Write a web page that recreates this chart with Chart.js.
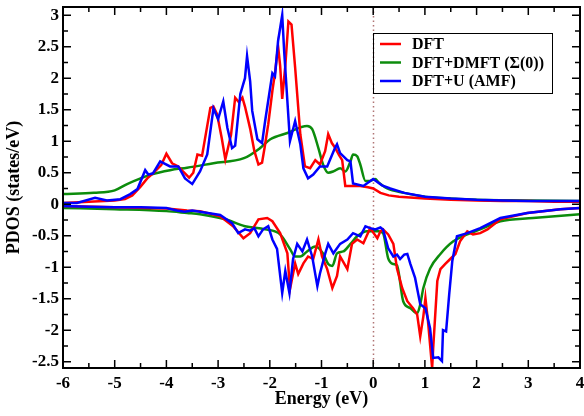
<!DOCTYPE html>
<html>
<head>
<meta charset="utf-8">
<title>PDOS</title>
<script src="https://cdn.jsdelivr.net/npm/chart.js@4.4.1/dist/chart.umd.min.js"></script>
<style>
  html, body { margin: 0; padding: 0; background: #fff; }
  #wrap { width: 584px; height: 416px; }
</style>
</head>
<body>
<div id="wrap"><canvas id="pdosChart" width="584" height="416"></canvas></div>
<script>
// tick labels
const xTicks = [-6, -5, -4, -3, -2, -1, 0, 1, 2, 3, 4];
const yTicks = [-2.5, -2, -1.5, -1, -0.5, 0, 0.5, 1, 1.5, 2, 2.5, 3];

const seriesNames = ['DFT', 'DFT+DMFT (\u03A3(0))', 'DFT+U (AMF)'];

// DFT, spin up / spin down
const dftUpE = [-6, -5.5, -5, -4.8, -4.66, -4.5, -4.37, -4.26, -4.1, -4.0, -3.89, -3.77, -3.68, -3.56, -3.48, -3.40, -3.31, -3.15, -3.09, -3.02, -2.93, -2.86, -2.75, -2.67, -2.60, -2.53, -2.48, -2.38, -2.30, -2.22, -2.15, -2.10, -2.03, -1.95, -1.90, -1.84, -1.80, -1.76, -1.70, -1.64, -1.58, -1.51, -1.41, -1.32, -1.22, -1.12, -1.03, -0.93, -0.87, -0.80, -0.74, -0.66, -0.60, -0.54, -0.40, -0.25, -0.10, 0, 0.14, 0.3, 0.5, 1, 1.5, 2, 2.5, 3, 3.5, 4];
const dftUpV = [0.02, 0.04, 0.06, 0.08, 0.14, 0.28, 0.41, 0.49, 0.62, 0.80, 0.65, 0.60, 0.52, 0.42, 0.50, 0.79, 0.77, 1.53, 1.55, 1.43, 1.05, 0.71, 1.10, 1.69, 1.62, 1.69, 1.55, 1.20, 0.85, 0.63, 0.66, 0.90, 1.27, 1.80, 2.08, 2.51, 2.20, 1.67, 2.20, 2.90, 2.85, 2.17, 1.11, 0.60, 0.57, 0.70, 0.63, 0.84, 1.11, 0.97, 0.90, 0.78, 0.70, 0.29, 0.29, 0.29, 0.27, 0.25, 0.18, 0.14, 0.12, 0.09, 0.07, 0.06, 0.05, 0.05, 0.04, 0.04];
const dftDnE = [-6, -5, -4, -3.6, -3.35, -2.96, -2.71, -2.51, -2.38, -2.22, -2.05, -1.95, -1.80, -1.66, -1.61, -1.51, -1.45, -1.35, -1.26, -1.16, -1.06, -0.99, -0.89, -0.79, -0.70, -0.64, -0.50, -0.41, -0.31, -0.19, -0.06, 0.08, 0.14, 0.19, 0.29, 0.39, 0.46, 0.56, 0.66, 0.77, 0.85, 0.91, 0.97, 1.01, 1.06, 1.14, 1.16, 1.24, 1.30, 1.39, 1.49, 1.59, 1.68, 1.82, 1.93, 2.07, 2.21, 2.46, 2.98, 3.62, 4];
const dftDnV = [-0.03, -0.05, -0.07, -0.10, -0.11, -0.19, -0.35, -0.54, -0.46, -0.24, -0.22, -0.27, -0.46, -0.78, -1.35, -0.94, -1.11, -0.94, -0.83, -0.87, -0.56, -0.83, -1.03, -1.33, -1.14, -0.83, -1.03, -0.63, -0.56, -0.62, -0.38, -0.54, -0.43, -0.40, -0.48, -0.63, -1.02, -1.33, -1.54, -1.65, -1.75, -2.10, -1.78, -1.49, -1.86, -2.60, -2.29, -1.22, -1.03, -0.95, -0.87, -0.79, -0.59, -0.43, -0.48, -0.46, -0.40, -0.24, -0.14, -0.08, -0.06];

// DFT+DMFT (Sigma(0))
const dmftUpE = [-6, -5.4, -5.0, -4.76, -4.5, -4.3, -3.93, -3.6, -3.09, -2.5, -2.19, -1.99, -1.66, -1.28, -1.18, -1.06, -0.97, -0.87, -0.77, -0.64, -0.54, -0.44, -0.39, -0.31, -0.25, -0.15, -0.06, 0.04, 0.10, 0.27, 0.6, 1, 1.5, 2, 3, 4];
const dmftUpV = [0.16, 0.18, 0.22, 0.32, 0.41, 0.47, 0.54, 0.58, 0.65, 0.73, 0.89, 1.03, 1.13, 1.24, 1.19, 0.89, 0.63, 0.50, 0.52, 0.57, 0.52, 0.68, 0.79, 0.76, 0.63, 0.37, 0.37, 0.40, 0.35, 0.25, 0.18, 0.12, 0.09, 0.07, 0.06, 0.05];
const dmftDnE = [-6, -5, -4, -3.6, -3.35, -2.86, -2.48, -2.09, -1.80, -1.61, -1.51, -1.41, -1.28, -1.12, -0.97, -0.87, -0.79, -0.70, -0.58, -0.44, -0.31, -0.12, 0.04, 0.10, 0.19, 0.29, 0.39, 0.46, 0.58, 0.72, 0.85, 0.91, 0.97, 1.10, 1.30, 1.55, 1.82, 2.07, 2.46, 3.09, 4];
const dmftDnV = [-0.06, -0.08, -0.11, -0.14, -0.16, -0.24, -0.35, -0.40, -0.48, -0.71, -0.83, -0.83, -0.75, -0.67, -0.78, -0.95, -0.98, -0.78, -0.75, -0.63, -0.51, -0.43, -0.43, -0.43, -0.46, -0.86, -0.95, -0.97, -1.54, -1.65, -1.73, -1.59, -1.33, -1.02, -0.79, -0.59, -0.48, -0.40, -0.27, -0.22, -0.16];

// DFT+U (AMF)
const ldauUpE = [-6, -5.73, -5.38, -5.15, -4.89, -4.70, -4.56, -4.41, -4.35, -4.26, -4.12, -3.93, -3.77, -3.64, -3.58, -3.50, -3.35, -3.21, -3.09, -3.00, -2.90, -2.82, -2.73, -2.67, -2.57, -2.48, -2.44, -2.38, -2.34, -2.24, -2.15, -2.09, -1.95, -1.90, -1.84, -1.76, -1.72, -1.61, -1.51, -1.41, -1.35, -1.26, -1.16, -1.03, -0.89, -0.74, -0.70, -0.64, -0.50, -0.44, -0.39, -0.19, 0, 0.17, 0.33, 0.6, 1, 1.5, 2, 2.5, 3, 3.5, 4];
const ldauUpV = [0.02, 0.02, 0.10, 0.06, 0.08, 0.16, 0.24, 0.54, 0.47, 0.49, 0.68, 0.60, 0.60, 0.41, 0.37, 0.32, 0.52, 0.79, 1.52, 1.35, 1.63, 1.21, 0.89, 0.93, 1.75, 2.00, 2.35, 1.95, 1.48, 1.03, 0.97, 1.32, 2.08, 2.03, 2.59, 3.00, 2.40, 1.00, 1.32, 0.95, 0.57, 0.41, 0.47, 0.60, 0.60, 0.89, 0.95, 0.81, 0.70, 0.68, 0.33, 0.29, 0.40, 0.30, 0.25, 0.18, 0.12, 0.09, 0.07, 0.06, 0.05, 0.05, 0.05];
const ldauDnE = [-6, -5.5, -5, -4.5, -4.0, -3.8, -3.65, -3.5, -3.35, -2.96, -2.73, -2.61, -2.48, -2.38, -2.30, -2.22, -2.13, -2.03, -1.95, -1.86, -1.76, -1.70, -1.62, -1.55, -1.47, -1.37, -1.28, -1.18, -1.08, -1.03, -0.93, -0.87, -0.77, -0.64, -0.50, -0.39, -0.25, -0.15, -0.06, 0.04, 0.14, 0.19, 0.29, 0.39, 0.46, 0.52, 0.60, 0.66, 0.72, 0.81, 0.91, 1.01, 1.10, 1.16, 1.26, 1.33, 1.35, 1.41, 1.47, 1.53, 1.62, 1.82, 2.07, 2.46, 2.98, 3.62, 4];
const ldauDnV = [-0.03, -0.04, -0.05, -0.05, -0.06, -0.10, -0.12, -0.10, -0.12, -0.17, -0.30, -0.46, -0.40, -0.42, -0.38, -0.51, -0.40, -0.35, -0.56, -0.71, -1.41, -1.06, -1.41, -0.87, -0.63, -0.75, -0.56, -0.83, -1.30, -1.10, -0.79, -0.63, -0.78, -0.63, -0.56, -0.46, -0.51, -0.35, -0.38, -0.40, -0.37, -0.40, -0.70, -0.83, -0.80, -0.87, -0.80, -0.79, -0.95, -1.17, -1.59, -1.65, -1.97, -2.44, -2.43, -2.49, -2.00, -2.02, -1.43, -0.90, -0.51, -0.46, -0.38, -0.22, -0.14, -0.08, -0.06];

const colors = ['#ff0000', '#0c8c0c', '#0000ff'];
const serif = '"Liberation Serif", "Times New Roman", serif';

function pts(es, vs) {
  return es.map((e, i) => ({ x: e, y: vs[i] }));
}

function line(data, color, order, smooth) {
  return {
    data,
    borderColor: color,
    borderWidth: 2.5,
    pointRadius: 0,
    fill: false,
    order,
    tension: 0,
    cubicInterpolationMode: smooth ? 'monotone' : 'default'
  };
}

// frame, inward ticks, zero line and legend box
const decorations = {
  id: 'decorations',
  beforeDatasetsDraw(chart) {
    const { ctx, chartArea: a, scales: { x } } = chart;
    const x0 = Math.round(x.getPixelForValue(0)) + 0.5;
    ctx.save();
    ctx.strokeStyle = '#b07474';
    ctx.lineWidth = 1.5;
    ctx.setLineDash([1.5, 3]);
    ctx.beginPath();
    ctx.moveTo(x0, a.top);
    ctx.lineTo(x0, a.bottom);
    ctx.stroke();
    ctx.restore();
  },
  afterDraw(chart) {
    const { ctx, chartArea: a, scales: { x, y } } = chart;
    ctx.save();
    ctx.strokeStyle = '#000';
    ctx.lineWidth = 1.5;
    ctx.beginPath();
    const tick = (px, len, vertical) => {
      if (vertical) {
        ctx.moveTo(px, a.bottom); ctx.lineTo(px, a.bottom - len);
        ctx.moveTo(px, a.top); ctx.lineTo(px, a.top + len);
      } else {
        ctx.moveTo(a.left, px); ctx.lineTo(a.left + len, px);
        ctx.moveTo(a.right, px); ctx.lineTo(a.right - len, px);
      }
    };
    xTicks.forEach((v, i) => {
      tick(x.getPixelForValue(v), 8, true);
      if (i < xTicks.length - 1) tick(x.getPixelForValue(v + 0.5), 5, true);
    });
    yTicks.forEach((v, i) => {
      tick(y.getPixelForValue(v), 8, false);
      if (i < yTicks.length - 1) tick(y.getPixelForValue(v + 0.25), 5, false);
    });
    ctx.stroke();

    ctx.lineWidth = 2;
    ctx.strokeRect(a.left, a.top, a.right - a.left, a.bottom - a.top);

    // legend
    ctx.lineWidth = 1;
    ctx.strokeRect(373.5, 33.5, 179, 60);
    ctx.font = 'bold 16px ' + serif;
    ctx.textBaseline = 'middle';
    ctx.fillStyle = '#000';
    seriesNames.forEach((name, i) => {
      const ly = 44 + i * 18.5;
      ctx.strokeStyle = colors[i];
      ctx.lineWidth = 2.5;
      ctx.beginPath();
      ctx.moveTo(380, ly);
      ctx.lineTo(401, ly);
      ctx.stroke();
      ctx.fillText(name, 412, ly + 1);
    });
    ctx.restore();
  }
};

const ctx = document.getElementById('pdosChart').getContext('2d');
new Chart(ctx, {
  type: 'line',
  data: {
    datasets: [
      line(pts(dftUpE, dftUpV), colors[0], 1),
      line(pts(dftDnE, dftDnV), colors[0], 1),
      line(pts(dmftUpE, dmftUpV), colors[1], 2, true),
      line(pts(dmftDnE, dmftDnV), colors[1], 2, true),
      line(pts(ldauUpE, ldauUpV), colors[2], 0),
      line(pts(ldauDnE, ldauDnV), colors[2], 0)
    ]
  },
  options: {
    responsive: false,
    animation: false,
    devicePixelRatio: 1,
    layout: { padding: { top: 7, right: 4, left: 0, bottom: 0 } },
    plugins: { legend: { display: false }, tooltip: { enabled: false } },
    scales: {
      x: {
        type: 'linear',
        min: -6,
        max: 4,
        grid: { display: false, drawTicks: false },
        border: { display: false },
        afterBuildTicks: s => { s.ticks = xTicks.map(v => ({ value: v })); },
        afterFit: s => { s.height = 48; s.paddingLeft = 0; s.paddingRight = 0; },
        ticks: {
          color: '#000',
          padding: 5,
          maxRotation: 0,
          font: { family: serif, size: 17, weight: 'bold' },
          callback: v => String(v)
        },
        title: {
          display: true,
          text: 'Energy (eV)',
          color: '#000',
          padding: { top: 0, bottom: 6 },
          font: { family: serif, size: 18, weight: 'bold' }
        }
      },
      y: {
        type: 'linear',
        min: -2.6,
        max: 3.13,
        grid: { display: false, drawTicks: false },
        border: { display: false },
        afterBuildTicks: s => { s.ticks = yTicks.map(v => ({ value: v })); },
        afterFit: s => { s.width = 63; s.paddingTop = 0; s.paddingBottom = 0; },
        ticks: {
          color: '#000',
          padding: 4,
          font: { family: serif, size: 17, weight: 'bold' },
          callback: v => String(v)
        },
        title: {
          display: true,
          text: 'PDOS (states/eV)',
          color: '#000',
          padding: { top: 4, bottom: 0 },
          font: { family: serif, size: 18, weight: 'bold' }
        }
      }
    }
  },
  plugins: [decorations]
});
</script>
</body>
</html>
